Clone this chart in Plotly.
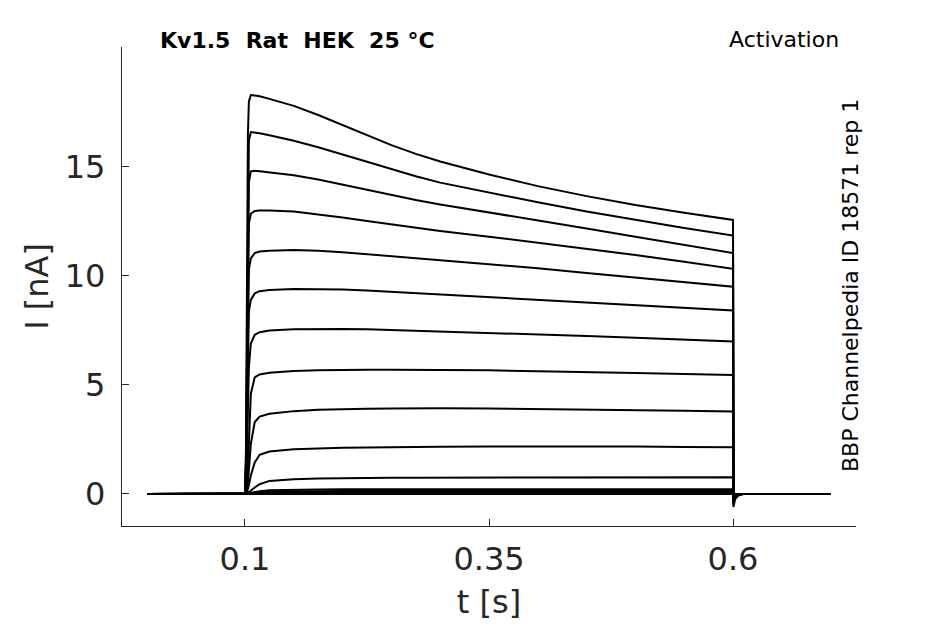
import plotly.graph_objects as go

t_s = [0.0, 0.05, 0.1, 0.101, 0.102, 0.103, 0.104, 0.106, 0.11, 0.115, 0.125,
       0.15, 0.175, 0.2, 0.225, 0.25, 0.275, 0.3, 0.35, 0.4, 0.45, 0.5, 0.55,
       0.6, 0.6004, 0.602, 0.605, 0.61, 0.65, 0.7]

# current sweeps (nA), largest first
sweep_01 = [0, 0, 0, 2.0, 9.0, 16.5, 18.0, 18.3, 18.28, 18.24, 18.12, 17.8, 17.38, 16.92, 16.45, 16.0, 15.6, 15.25, 14.65, 14.12, 13.66, 13.25, 12.9, 12.57, -0.6, -0.25, -0.08, 0.0, 0.0, 0.0]
sweep_02 = [0, 0, 0, 1.6, 7.5, 14.5, 16.2, 16.6, 16.58, 16.54, 16.45, 16.2, 15.9, 15.57, 15.22, 14.88, 14.57, 14.28, 13.82, 13.38, 12.96, 12.57, 12.2, 11.85, -0.5, -0.2, -0.06, 0.0, 0.0, 0.0]
sweep_03 = [0, 0, 0, 1.3, 6.0, 12.5, 14.3, 14.8, 14.82, 14.8, 14.75, 14.62, 14.42, 14.18, 13.94, 13.7, 13.48, 13.28, 12.92, 12.56, 12.18, 11.8, 11.42, 11.05, -0.45, -0.18, -0.05, 0.0, 0.0, 0.0]
sweep_04 = [0, 0, 0, 1.0, 4.8, 10.5, 12.4, 12.85, 12.98, 13.0, 13.0, 12.95, 12.83, 12.68, 12.52, 12.36, 12.2, 12.06, 11.8, 11.53, 11.25, 10.96, 10.65, 10.33, -0.4, -0.15, -0.04, 0.0, 0.0, 0.0]
sweep_05 = [0, 0, 0, 0.8, 3.8, 8.5, 10.3, 10.8, 11.05, 11.12, 11.15, 11.19, 11.16, 11.09, 11.0, 10.91, 10.82, 10.73, 10.55, 10.35, 10.14, 9.94, 9.73, 9.51, -0.35, -0.12, -0.03, 0.0, 0.0, 0.0]
sweep_06 = [0, 0, 0, 0.6, 2.8, 6.6, 8.4, 8.9, 9.2, 9.3, 9.35, 9.4, 9.4, 9.38, 9.33, 9.27, 9.21, 9.15, 9.04, 8.92, 8.8, 8.67, 8.54, 8.42, -0.3, -0.1, -0.02, 0.0, 0.0, 0.0]
sweep_07 = [0, 0, 0, 0.3, 1.5, 3.8, 5.8, 6.9, 7.3, 7.42, 7.5, 7.56, 7.58, 7.57, 7.55, 7.52, 7.49, 7.46, 7.4, 7.33, 7.25, 7.17, 7.08, 6.99, -0.25, -0.08, -0.02, 0.0, 0.0, 0.0]
sweep_08 = [0, 0, 0, 0.1, 0.4, 1.2, 2.5, 4.6, 5.35, 5.48, 5.56, 5.64, 5.68, 5.7, 5.7, 5.7, 5.7, 5.69, 5.67, 5.63, 5.6, 5.55, 5.5, 5.46, -0.2, -0.06, -0.01, 0.0, 0.0, 0.0]
sweep_09 = [0, 0, 0, 0.05, 0.2, 0.5, 1.0, 2.3, 3.3, 3.55, 3.68, 3.8, 3.86, 3.9, 3.91, 3.92, 3.93, 3.93, 3.92, 3.9, 3.88, 3.85, 3.82, 3.78, -0.15, -0.05, -0.01, 0.0, 0.0, 0.0]
sweep_10 = [0, 0, 0, 0.02, 0.08, 0.2, 0.4, 0.85, 1.45, 1.8, 1.95, 2.05, 2.1, 2.12, 2.13, 2.15, 2.16, 2.17, 2.18, 2.19, 2.19, 2.18, 2.16, 2.14, -0.1, -0.03, 0.0, 0.0, 0.0, 0.0]
sweep_11 = [0, 0, 0, 0.01, 0.02, 0.05, 0.08, 0.15, 0.3, 0.45, 0.6, 0.68, 0.71, 0.73, 0.74, 0.75, 0.75, 0.75, 0.76, 0.76, 0.77, 0.77, 0.77, 0.77, -0.05, -0.02, 0.0, 0.0, 0.0, 0.0]
sweep_12 = [0, 0, 0, 0.0, 0.01, 0.02, 0.03, 0.05, 0.09, 0.13, 0.17, 0.2, 0.21, 0.22, 0.22, 0.22, 0.22, 0.22, 0.22, 0.22, 0.22, 0.22, 0.22, 0.22, -0.03, 0.0, 0.0, 0.0, 0.0, 0.0]
sweep_13 = [0, 0, 0, 0.0, 0.0, 0.01, 0.02, 0.03, 0.06, 0.09, 0.11, 0.13, 0.14, 0.14, 0.14, 0.14, 0.14, 0.14, 0.14, 0.14, 0.14, 0.14, 0.14, 0.14, -0.02, 0.0, 0.0, 0.0, 0.0, 0.0]
sweep_14 = [0, 0, 0, 0.0, 0.0, 0.0, 0.01, 0.02, 0.04, 0.05, 0.06, 0.07, 0.08, 0.08, 0.08, 0.08, 0.08, 0.08, 0.08, 0.08, 0.08, 0.08, 0.08, 0.08, 0.0, 0.0, 0.0, 0.0, 0.0, 0.0]
sweep_15 = [0, 0, 0, 0.0, 0.0, 0.0, 0.0, 0.01, 0.01, 0.02, 0.02, 0.03, 0.03, 0.03, 0.03, 0.03, 0.03, 0.03, 0.03, 0.03, 0.03, 0.03, 0.03, 0.03, 0.0, 0.0, 0.0, 0.0, 0.0, 0.0]

sweeps = [sweep_15, sweep_14, sweep_13, sweep_12, sweep_11, sweep_10, sweep_09,
          sweep_08, sweep_07, sweep_06, sweep_05, sweep_04, sweep_03, sweep_02, sweep_01]

x_tickvals = [0.1, 0.35, 0.6]
x_ticktext = ["0.1", "0.35", "0.6"]
y_tickvals = [0, 5, 10, 15]
y_ticktext = ["0", "5", "10", "15"]

title_left = "Kv1.5\u00a0\u00a0Rat\u00a0\u00a0HEK\u00a0\u00a025 °C"
title_right = "Activation"
side_label = "BBP Channelpedia ID 18571 rep 1"

FONT = "DejaVu Sans"
AXC = "#262626"

fig = go.Figure()
for s in sweeps:
    fig.add_trace(go.Scatter(x=t_s, y=s, mode="lines",
                             line=dict(color="black", width=2),
                             showlegend=False, hoverinfo="skip"))

fig.update_layout(
    width=945, height=624,
    margin=dict(l=114, r=97, t=39, b=106),
    paper_bgcolor="white", plot_bgcolor="white",
    font=dict(family=FONT, color=AXC),
    showlegend=False,
)
fig.update_xaxes(
    range=[-0.026, 0.726], tickvals=x_tickvals, ticktext=x_ticktext,
    showline=True, linecolor=AXC, linewidth=1.3, mirror=False,
    ticks="inside", ticklen=7, tickcolor=AXC, tickwidth=1.3,
    showgrid=False, zeroline=False,
    tickfont=dict(family=FONT, size=32, color=AXC),
    ticklabelstandoff=4,
    title=dict(text="t [s]", font=dict(family=FONT, size=32, color=AXC), standoff=14),
)
fig.update_yaxes(
    range=[-1.468, 20.5], tickvals=y_tickvals, ticktext=y_ticktext,
    showline=True, linecolor=AXC, linewidth=1.3, mirror=False,
    ticks="inside", ticklen=7, tickcolor=AXC, tickwidth=1.3,
    showgrid=False, zeroline=False,
    tickfont=dict(family=FONT, size=32, color=AXC),
    ticklabelstandoff=9,
    title=dict(text="I [nA]", font=dict(family=FONT, size=32, color=AXC), standoff=6),
)

fig.add_annotation(text="<b>" + title_left + "</b>", xref="paper", yref="paper",
                   x=0.049, y=1.0146, xanchor="left", yanchor="middle",
                   showarrow=False, font=dict(family=FONT, size=22, color="black"))
fig.add_annotation(text=title_right, xref="paper", yref="paper",
                   x=0.9796, y=1.0166, xanchor="right", yanchor="middle",
                   showarrow=False, font=dict(family=FONT, size=22, color="black"))
fig.add_annotation(text=side_label, xref="paper", yref="paper",
                   x=0.9918, y=0.503, xanchor="center", yanchor="middle",
                   textangle=-90, showarrow=False,
                   font=dict(family=FONT, size=22, color="black"))

fig.write_html("out.html")
